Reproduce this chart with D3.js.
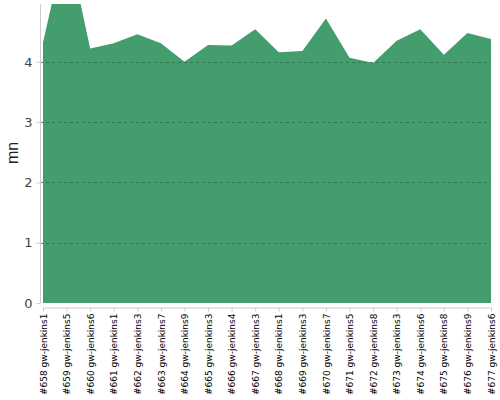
<!DOCTYPE html>
<html><head><meta charset="utf-8">
<script src="https://cdn.jsdelivr.net/npm/d3@7"></script>
<style>
body{margin:0;background:#fff;font-family:"DejaVu Sans",sans-serif;}
</style></head><body>
<svg id="c" width="500" height="400"></svg>
<script>
const builds = ["#658 gw-jenkins1","#659 gw-jenkins5","#660 gw-jenkins6","#661 gw-jenkins1","#662 gw-jenkins3","#663 gw-jenkins7","#664 gw-jenkins9","#665 gw-jenkins3","#666 gw-jenkins4","#667 gw-jenkins3","#668 gw-jenkins1","#669 gw-jenkins3","#670 gw-jenkins7","#671 gw-jenkins5","#672 gw-jenkins8","#673 gw-jenkins3","#674 gw-jenkins6","#675 gw-jenkins8","#676 gw-jenkins9","#677 gw-jenkins6"];
const durations = [4.32,6.05,4.22,4.31,4.46,4.31,4.00,4.28,4.27,4.54,4.16,4.18,4.72,4.07,3.98,4.35,4.54,4.12,4.48,4.38];
const yTicks = [0,1,2,3,4];
const yLabel = "mn";

(function(){
const svg = d3.select("#c");
const pL=43, pR=491, pT=4, pB=303;
const x = d3.scalePoint().domain(builds).range([pL,pR]);
const y = d3.scaleLinear().domain([0,4.96]).range([pB,pT]);

svg.append("clipPath").attr("id","clip").append("rect")
  .attr("x",pL).attr("y",pT).attr("width",pR-pL).attr("height",pB-pT);

const area = d3.area().x((d,i)=>x(builds[i])).y0(y(0)).y1(d=>y(d));
svg.append("path").datum(durations).attr("d",area)
  .attr("fill","#449d6d").attr("clip-path","url(#clip)");

// grid
svg.append("g").selectAll("line").data(yTicks.filter(t=>t>0)).join("line")
  .attr("x1",40).attr("x2",pR).attr("y1",d=>Math.round(y(d))+0.5).attr("y2",d=>Math.round(y(d))+0.5)
  .attr("stroke","#2a7048").attr("stroke-opacity",0.8).attr("stroke-dasharray","3,3").attr("stroke-width",1);

// y axis
const ya = svg.append("g").attr("transform","translate(40.5,0)")
  .call(d3.axisLeft(y).tickValues(yTicks).tickSize(4).tickPadding(4).tickFormat(d3.format("d")));
ya.select(".domain").attr("stroke","#ccc").attr("d",`M0,${pT}V${pB}`);
ya.selectAll(".tick line").attr("stroke","#ccc");
ya.selectAll(".tick text").attr("fill","#444").style("font-size","13px").style("font-family","DejaVu Sans");

// x axis
const xa = svg.append("g").attr("transform","translate(0,307.5)")
  .call(d3.axisBottom(x).tickSize(4).tickSizeOuter(0));
xa.select(".domain").attr("stroke","#ccc");
xa.selectAll(".tick line").attr("stroke","#ccc");
xa.selectAll(".tick text")
  .attr("transform","rotate(-90)").attr("text-anchor","end")
  .attr("x",-6).attr("y",0).attr("dy","0.35em")
  .attr("fill","#000").style("font-size","9px").style("font-family","DejaVu Sans");

svg.append("text").attr("transform",`translate(18,153) rotate(-90)`)
  .attr("text-anchor","middle").attr("fill","#222")
  .style("font-size","16px").style("font-family","Liberation Sans").text(yLabel);
})();
</script></body></html>
